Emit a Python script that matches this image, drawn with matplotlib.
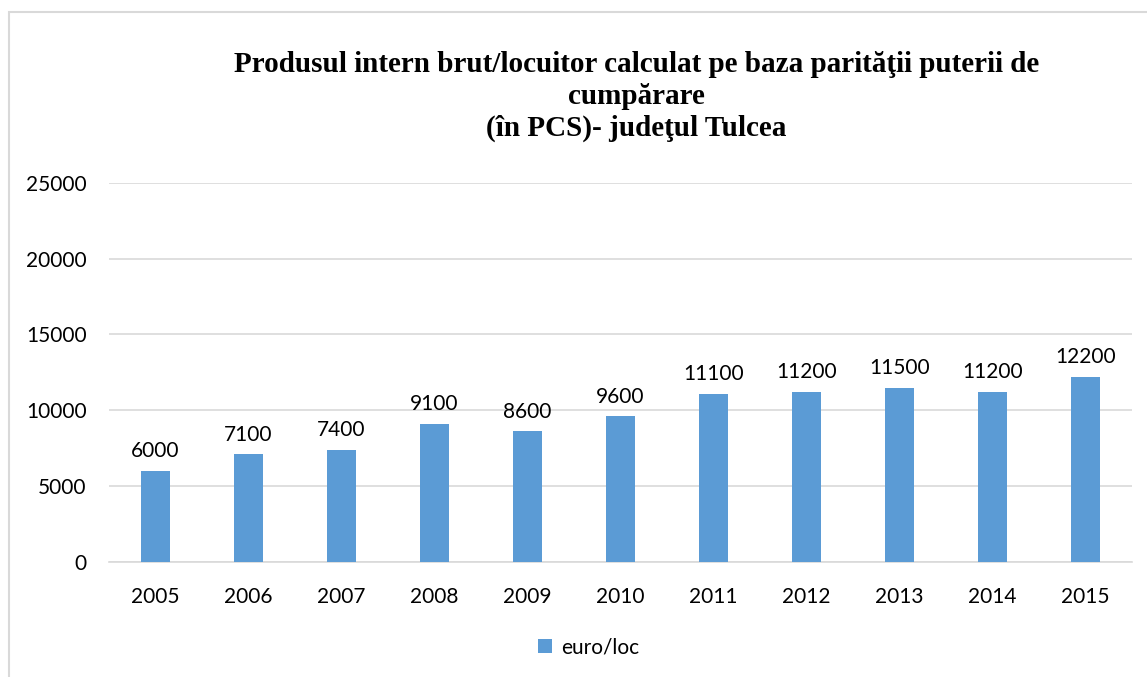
import numpy as np
import matplotlib
matplotlib.use('Agg')
import matplotlib.pyplot as plt
from matplotlib.patches import Rectangle

# data
years = ['2005', '2006', '2007', '2008', '2009', '2010', '2011', '2012', '2013', '2014', '2015']
values = [6000, 7100, 7400, 9100, 8600, 9600, 11100, 11200, 11500, 11200, 12200]
y_ticks = [0, 5000, 10000, 15000, 20000, 25000]
title = ('Produsul intern brut/locuitor calculat pe baza parităţii puterii de\n'
         'cumpărare\n(în PCS)- judeţul Tulcea')
series_name = 'euro/loc'

bar_color = '#5B9BD5'
grid_color = '#D9D9D9'
tick_font = 'Lato'

fig = plt.figure(figsize=(11.47, 6.77), dpi=100)
ax = fig.add_axes([0.095, 0.170, 0.892, 0.560])

x = np.arange(len(years))
bars = ax.bar(x, values, width=0.31, color=bar_color, label=series_name, zorder=3)

for xi, v in zip(x, values):
    ax.annotate(str(v), (xi, v), xytext=(0, 7), textcoords='offset points',
                ha='center', va='bottom', fontsize=15, family=tick_font, color='#000000')

ax.set_xlim(-0.5, len(years) - 0.5)
ax.set_ylim(0, 25000)
ax.set_yticks(y_ticks)
ax.set_yticklabels([str(t) for t in y_ticks], fontsize=15, family=tick_font)
ax.set_xticks(x)
ax.set_xticklabels(years, fontsize=15, family=tick_font)
ax.tick_params(axis='both', length=0)
ax.tick_params(axis='y', pad=16)
ax.tick_params(axis='x', pad=18)
ax.yaxis.grid(True, color=grid_color, linewidth=1.2, zorder=0)
for s in ['top', 'right', 'left']:
    ax.spines[s].set_visible(False)
ax.spines['bottom'].set_color(grid_color)
ax.spines['bottom'].set_linewidth(1.2)

fig.text(0.555, 0.925, title, ha='center', va='top', fontsize=21, fontweight='bold',
         family='Liberation Serif', linespacing=1.24)

leg = fig.legend(loc='center', bbox_to_anchor=(0.513, 0.044), frameon=False,
                 prop={'family': tick_font, 'size': 15}, handlelength=0.7, handleheight=0.7,
                 handletextpad=0.4)

# outer chart frame
fig.patches.append(Rectangle((9 / 1147, -0.1), 1.2, 1 - 12 / 677 + 0.1, transform=fig.transFigure,
                             fill=False, edgecolor=grid_color, linewidth=1.5))

fig.savefig('out.png', dpi=100)
